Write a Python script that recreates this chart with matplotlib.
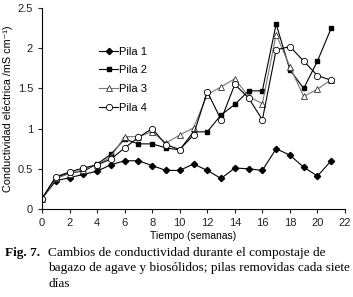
import matplotlib
matplotlib.use("Agg")
import matplotlib.pyplot as plt

weeks = list(range(0, 22))
pila1 = [0.13, 0.35, 0.39, 0.43, 0.47, 0.55, 0.60, 0.60, 0.54, 0.48, 0.48,
         0.56, 0.48, 0.38, 0.51, 0.50, 0.48, 0.75, 0.67, 0.52, 0.41, 0.60]
pila2 = [0.13, 0.39, 0.45, 0.47, 0.56, 0.68, 0.87, 0.81, 0.81, 0.76, 0.735,
         0.96, 0.96, 1.17, 1.30, 1.47, 1.47, 2.30, 1.73, 1.50, 1.84, 2.25]
pila3 = [0.13, 0.38, 0.44, 0.49, 0.55, 0.65, 0.90, 0.90, 0.96, 0.82, 0.92,
         1.01, 1.42, 1.52, 1.62, 1.40, 1.31, 2.17, 1.77, 1.40, 1.49, 1.61]
pila4 = [0.13, 0.40, 0.46, 0.51, 0.55, 0.62, 0.76, 0.89, 1.00, 0.80, 0.74,
         0.92, 1.46, 1.11, 1.55, 1.38, 1.11, 1.98, 2.02, 1.84, 1.66, 1.60]
labels = ["Pila 1", "Pila 2", "Pila 3", "Pila 4"]
xticks = list(range(0, 23, 2))
yticks = [0, 0.5, 1, 1.5, 2, 2.5]
yticklabels = ["0", "0.5", "1", "1.5", "2", "2.5"]

plt.rcParams['font.family'] = ['Liberation Sans', 'DejaVu Sans']

fig = plt.figure(figsize=(3.53, 2.97), dpi=100)
ax = fig.add_axes([42/353, 1 - 209/297, (345 - 42)/353, (209 - 8)/297])

ax.plot(weeks, pila1, color='black', lw=0.8, marker='D', ms=3.2, mfc='black', mec='black', label=labels[0])
ax.plot(weeks, pila2, color='black', lw=0.8, marker='s', ms=3.4, mfc='black', mec='black', label=labels[1])
ax.plot(weeks, pila3, color='#777777', lw=0.8, marker='^', ms=4.2, mfc='white', mec='#333333', mew=0.6, label=labels[2])
ax.plot(weeks, pila4, color='black', lw=0.8, marker='o', ms=4.5, mfc='white', mec='black', mew=0.6, label=labels[3])

ax.set_xlim(0, 22)
ax.set_ylim(0, 2.5)
ax.set_xticks(xticks)
ax.set_yticks(yticks)
ax.set_yticklabels(yticklabels)
ax.spines['top'].set_visible(False)
ax.spines['right'].set_visible(False)
ax.tick_params(direction='out', length=3, labelsize=8, colors='#222222')
ax.set_xlabel("Tiempo (semanas)", fontsize=7.5, labelpad=2)
ax.set_ylabel("Conductividad eléctrica /mS cm⁻¹)", fontsize=7.8, labelpad=3)

leg = ax.legend(loc='upper left', bbox_to_anchor=(0.175, 0.83), frameon=False,
                fontsize=8, handlelength=1.7, handletextpad=0.1,
                labelspacing=0.78, borderaxespad=0)

serif = ['Liberation Serif', 'DejaVu Serif']
fig.text(5/353, 1 - 253/297, "Fig. 7.", fontsize=9.5, fontweight='bold', family=serif, va='center')
fig.text(48/353, 1 - 253/297, "Cambios de conductividad durante el compostaje de",
         fontsize=9.5, family=serif, va='center')
fig.text(48/353, 1 - 268.5/297, "bagazo de agave y biosólidos; pilas removidas cada siete",
         fontsize=9.5, family=serif, va='center')
fig.text(48/353, 1 - 284/297, "días", fontsize=9.5, family=serif, va='center')

fig.savefig("out.png", dpi=100)
